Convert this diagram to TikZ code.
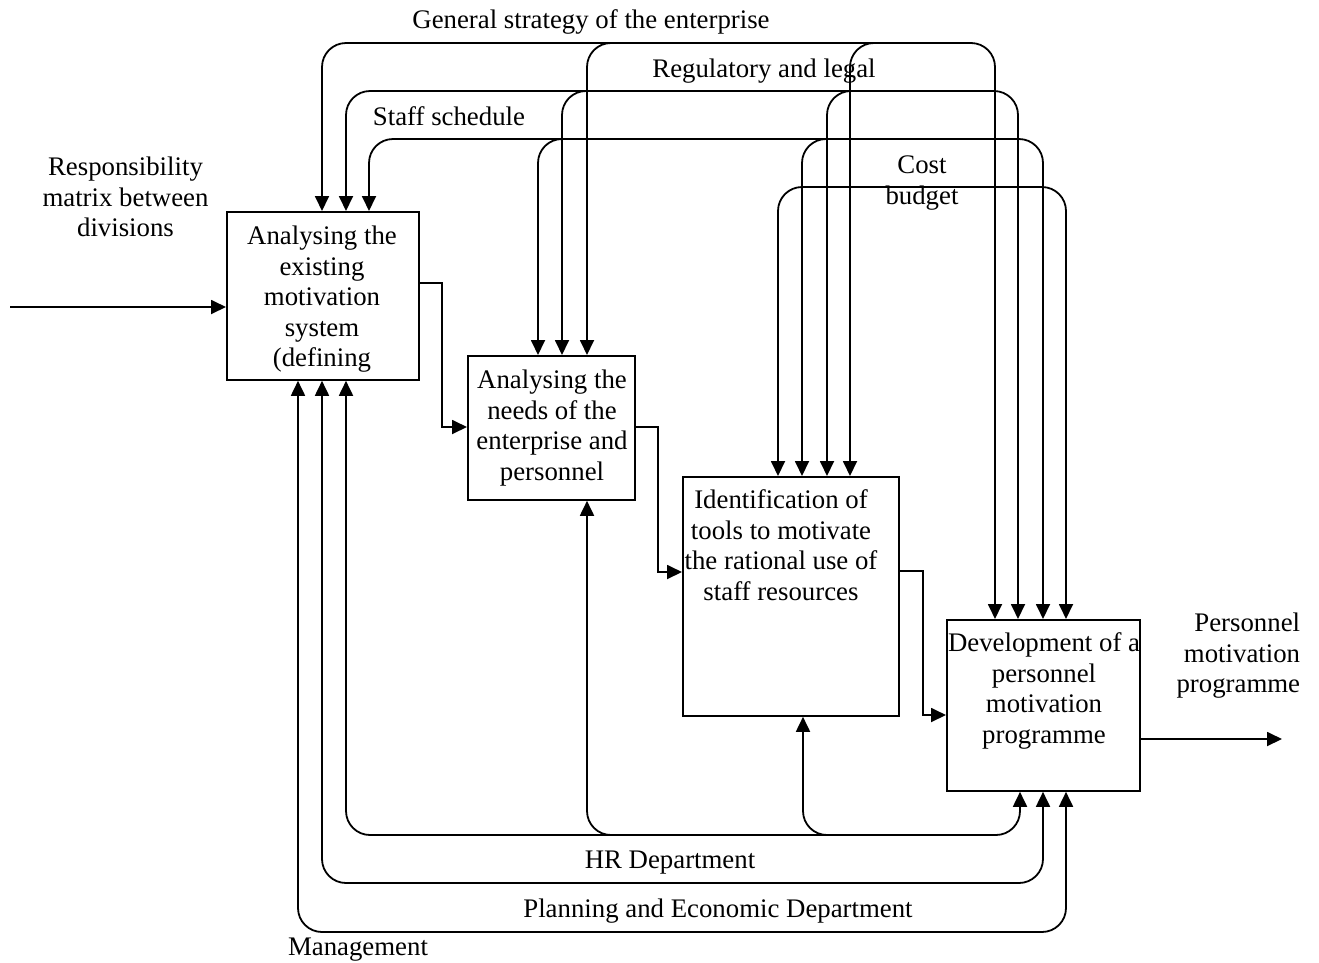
\documentclass[tikz,border=0pt]{standalone}
\usepackage{fontspec}
\setmainfont{Liberation Serif}
\usetikzlibrary{arrows.meta}

\begin{document}
\begin{tikzpicture}[x=1pt,y=-1pt,
  line width=1.8pt,
  tipshape/.tip={Triangle[length=15pt,width=14pt]},
  tip/.style={-tipshape},
  twotip/.style={tipshape-tipshape},
  box/.style={draw, rectangle, inner sep=0pt, anchor=north west},
  lbl/.style={font=\fontsize{26.8}{30.5}\selectfont, inner sep=0pt, align=center},
  round/.style={rounded corners=24pt}
]
\useasboundingbox (0,0) rectangle (1319,962);

% function boxes
\node[box, minimum width=192, minimum height=168] (A1) at (226,211) {};
\node[box, minimum width=167, minimum height=144] (A2) at (467,355) {};
\node[box, minimum width=216, minimum height=239] (A3) at (682,476) {};
\node[box, minimum width=193, minimum height=171] (A4) at (946,619) {};

% box captions
\node[lbl, anchor=north] (A1t) at (322,225) {Analysing the\\existing\\motivation\\system\\(defining};
\node[lbl, anchor=north] (A2t) at (552,369) {Analysing the\\needs of the\\enterprise and\\personnel};
\node[lbl, anchor=north] (A3t) at (781,489) {Identification of\\tools to motivate\\the rational use of\\staff resources};
\node[lbl, anchor=north] (A4t) at (1044,632) {Development of a\\personnel\\motivation\\programme};

% input and output
\coordinate (inp) at (10,307);
\coordinate (outp) at (1282,739);
\draw[tip] (inp) -- (inp -| A1.west);
\draw[tip] (A4.east |- outp) -- (outp);
\node[lbl, anchor=north] (inlbl) at (125.5,156) {Responsibility\\matrix between\\divisions};
\node[lbl, anchor=north east, align=right] (outlbl) at (1301,612) {Personnel\\motivation\\programme};

% flow between functions
\draw[tip] (A1.east |- 0,283) -- (442,283) -- (442,427) -- (A2.west |- 0,427);
\draw[tip] (A2.east |- 0,427) -- (658,427) -- (658,572) -- (A3.west |- 0,572);
\draw[tip] (A3.east |- 0,571) -- (923,571) -- (923,715) -- (A4.west |- 0,715);

% controls: general strategy
\draw[round, twotip] (322,0 |- A1.north) -- (322,43) -- (995,43) -- (995,0 |- A4.north);
\draw[round, tip] (635,43) -- (587,43) -- (587,0 |- A2.north);
\draw[round, tip] (898,43) -- (850,43) -- (850,0 |- A3.north);
% controls: regulatory and legal
\draw[round, twotip] (346,0 |- A1.north) -- (346,91) -- (1018,91) -- (1018,0 |- A4.north);
\draw[round, tip] (610,91) -- (562,91) -- (562,0 |- A2.north);
\draw[round, tip] (875,91) -- (827,91) -- (827,0 |- A3.north);
% controls: staff schedule
\draw[round, twotip] (369,0 |- A1.north) -- (369,139) -- (1043,139) -- (1043,0 |- A4.north);
\draw[round, tip] (586,139) -- (538,139) -- (538,0 |- A2.north);
\draw[round, tip] (850,139) -- (802,139) -- (802,0 |- A3.north);
% controls: cost budget
\draw[round, twotip] (778,0 |- A3.north) -- (778,187) -- (1066,187) -- (1066,0 |- A4.north);

\node[lbl, anchor=base] (c1) at (591,28) {General strategy of the enterprise};
\node[lbl, anchor=base] (c2) at (764,77) {Regulatory and legal};
\node[lbl, anchor=base] (c3) at (449,125) {Staff schedule};
\node[lbl, anchor=north] (c4) at (922,155) {Cost\\budget};

% mechanisms
\draw[round, twotip] (346,0 |- A1.south) -- (346,835) -- (1020,835) -- (1020,0 |- A4.south);
\draw[round, tip] (635,835) -- (587,835) -- (587,0 |- A2.south);
\draw[round, tip] (851,835) -- (803,835) -- (803,0 |- A3.south);
\draw[round, twotip] (322,0 |- A1.south) -- (322,883) -- (1043,883) -- (1043,0 |- A4.south);
\draw[round, twotip] (298,0 |- A1.south) -- (298,932) -- (1066,932) -- (1066,0 |- A4.south);

\node[lbl, anchor=base] (m1) at (670,868) {HR Department};
\node[lbl, anchor=base] (m2) at (718,917) {Planning and Economic Department};
\node[lbl, anchor=base] (m3) at (358,955) {Management};
\end{tikzpicture}
\end{document}
